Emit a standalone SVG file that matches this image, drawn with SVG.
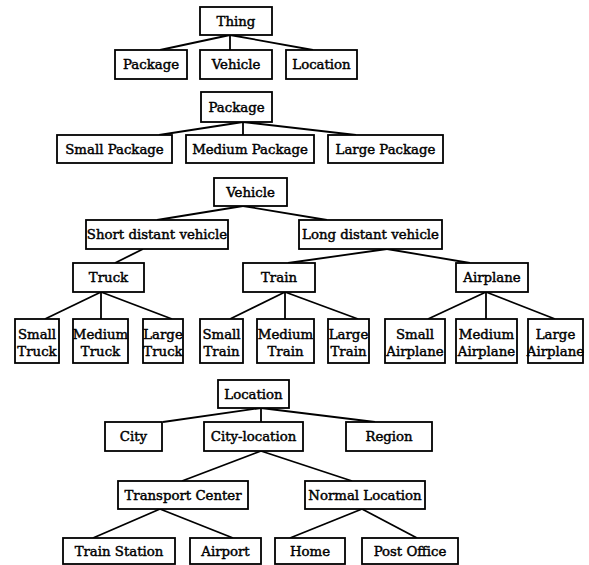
<svg xmlns="http://www.w3.org/2000/svg" width="589" height="565" viewBox="0 0 589 565">
<style>
rect{fill:#fff;stroke:#000;stroke-width:1.8}
text{font-family:"DejaVu Serif","Liberation Serif",serif;font-size:13.3px;fill:#000;text-anchor:middle;stroke:#000;stroke-width:0.45}
#connectors line{stroke:#000;stroke-width:1.8}
</style>
<rect x="0" y="0" width="589" height="565" style="stroke:none"/>
<g id="connectors">
<line x1="230" y1="35" x2="160" y2="50"/><line x1="230" y1="35" x2="230" y2="50"/><line x1="230" y1="35" x2="313" y2="50"/>
<line x1="243" y1="122" x2="159" y2="135"/><line x1="243" y1="122" x2="243" y2="135"/><line x1="243" y1="122" x2="356" y2="135"/>
<line x1="243" y1="206" x2="157" y2="220"/><line x1="243" y1="206" x2="327" y2="220"/>
<line x1="143" y1="249" x2="115" y2="263"/>
<line x1="387" y1="249" x2="288" y2="263"/><line x1="387" y1="249" x2="470" y2="263"/>
<line x1="101" y1="292" x2="45" y2="319"/><line x1="101" y1="292" x2="101" y2="319"/><line x1="101" y1="292" x2="172" y2="319"/>
<line x1="285" y1="292" x2="230" y2="319"/><line x1="285" y1="292" x2="285" y2="319"/><line x1="285" y1="292" x2="358" y2="319"/>
<line x1="486" y1="292" x2="428" y2="319"/><line x1="486" y1="292" x2="486" y2="319"/><line x1="486" y1="292" x2="555" y2="319"/>
<line x1="261" y1="408" x2="163" y2="422"/><line x1="261" y1="408" x2="261" y2="422"/><line x1="261" y1="408" x2="375" y2="422"/>
<line x1="261" y1="451" x2="182" y2="481"/><line x1="261" y1="451" x2="352" y2="481"/>
<line x1="160" y1="509" x2="93" y2="538"/><line x1="160" y1="509" x2="233" y2="538"/>
<line x1="362" y1="509" x2="290" y2="538"/><line x1="362" y1="509" x2="417" y2="538"/>
</g>
<g id="thing"><rect x="200" y="7" width="72" height="28"/><text x="236" y="26">Thing</text></g>
<g id="package1"><rect x="115" y="50" width="72" height="29"/><text x="151" y="69">Package</text></g>
<g id="vehicle1"><rect x="200" y="50" width="72" height="29"/><text x="236" y="69">Vehicle</text></g>
<g id="location1"><rect x="286" y="50" width="71" height="29"/><text x="321.5" y="69">Location</text></g>
<g id="package2"><rect x="201" y="92" width="71" height="30"/><text x="236.5" y="112">Package</text></g>
<g id="small-package"><rect x="57" y="135" width="115" height="28"/><text x="114.5" y="154">Small Package</text></g>
<g id="medium-package"><rect x="186" y="135" width="128" height="28"/><text x="250" y="154">Medium Package</text></g>
<g id="large-package"><rect x="328" y="135" width="115" height="28"/><text x="385.5" y="154">Large Package</text></g>
<g id="vehicle2"><rect x="214" y="178" width="73" height="28"/><text x="250.5" y="197">Vehicle</text></g>
<g id="short-distant"><rect x="86" y="220" width="142" height="29"/><text x="157" y="239">Short distant vehicle</text></g>
<g id="long-distant"><rect x="299" y="220" width="143" height="29"/><text x="370.5" y="239">Long distant vehicle</text></g>
<g id="truck"><rect x="73" y="263" width="71" height="29"/><text x="108.5" y="282">Truck</text></g>
<g id="train"><rect x="243" y="263" width="72" height="29"/><text x="279" y="282">Train</text></g>
<g id="airplane"><rect x="456" y="263" width="72" height="29"/><text x="492" y="282">Airplane</text></g>
<g id="small-truck"><rect x="15" y="319" width="44" height="44"/><text x="37" y="339">Small</text><text x="37" y="356">Truck</text></g>
<g id="medium-truck"><rect x="73" y="319" width="55" height="44"/><text x="100.5" y="339">Medium</text><text x="100.5" y="356">Truck</text></g>
<g id="large-truck"><rect x="143" y="319" width="40" height="44"/><text x="163" y="339">Large</text><text x="163" y="356">Truck</text></g>
<g id="small-train"><rect x="200" y="319" width="43" height="44"/><text x="221.5" y="339">Small</text><text x="221.5" y="356">Train</text></g>
<g id="medium-train"><rect x="257" y="319" width="57" height="44"/><text x="285.5" y="339">Medium</text><text x="285.5" y="356">Train</text></g>
<g id="large-train"><rect x="328" y="319" width="41" height="44"/><text x="348.5" y="339">Large</text><text x="348.5" y="356">Train</text></g>
<g id="small-airplane"><rect x="385" y="319" width="60" height="44"/><text x="415" y="339">Small</text><text x="415" y="356">Airplane</text></g>
<g id="medium-airplane"><rect x="456" y="319" width="61" height="44"/><text x="486.5" y="339">Medium</text><text x="486.5" y="356">Airplane</text></g>
<g id="large-airplane"><rect x="528" y="319" width="55" height="44"/><text x="555.5" y="339">Large</text><text x="555.5" y="356">Airplane</text></g>
<g id="location2"><rect x="218" y="380" width="71" height="28"/><text x="253.5" y="399">Location</text></g>
<g id="city"><rect x="105" y="422" width="57" height="29"/><text x="133.5" y="441">City</text></g>
<g id="city-location"><rect x="204" y="422" width="99" height="29"/><text x="253.5" y="441">City-location</text></g>
<g id="region"><rect x="346" y="422" width="86" height="29"/><text x="389" y="441">Region</text></g>
<g id="transport-center"><rect x="118" y="481" width="130" height="28"/><text x="183" y="500">Transport Center</text></g>
<g id="normal-location"><rect x="305" y="481" width="120" height="28"/><text x="365" y="500">Normal Location</text></g>
<g id="train-station"><rect x="63" y="538" width="112" height="26"/><text x="119" y="556">Train Station</text></g>
<g id="airport"><rect x="190" y="538" width="71" height="26"/><text x="225.5" y="556">Airport</text></g>
<g id="home"><rect x="275" y="538" width="70" height="26"/><text x="310" y="556">Home</text></g>
<g id="post-office"><rect x="362" y="538" width="96" height="26"/><text x="410" y="556">Post Office</text></g>
</svg>
